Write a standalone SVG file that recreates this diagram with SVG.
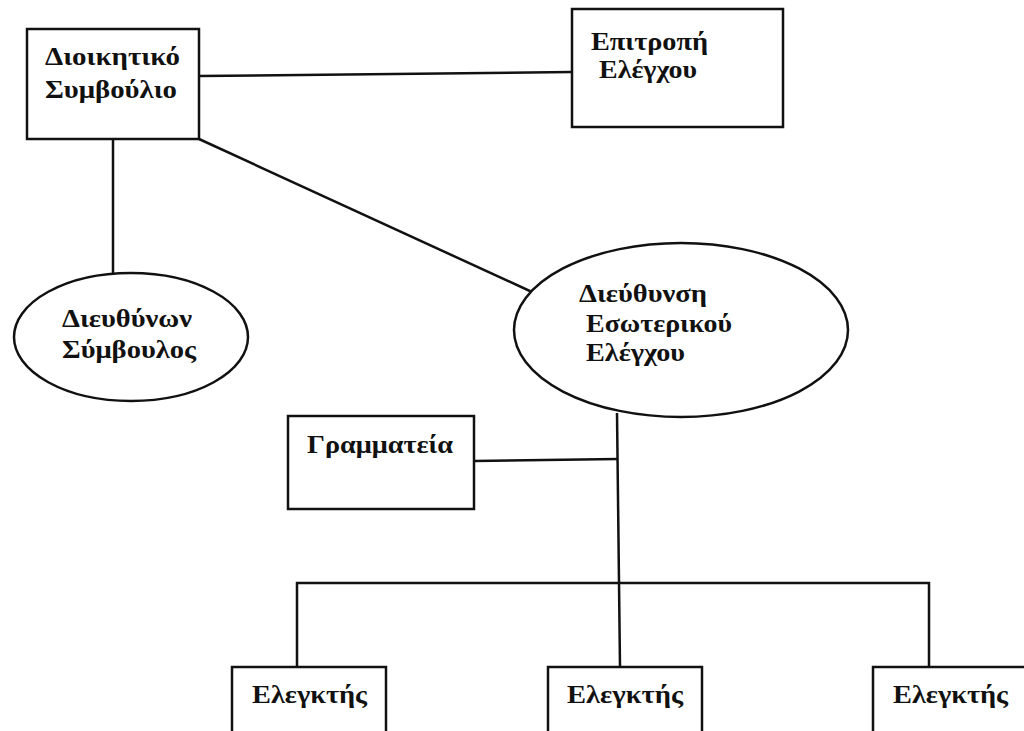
<svg xmlns="http://www.w3.org/2000/svg" width="1024" height="731" viewBox="0 0 1024 731">
<style>
.s{fill:#fff;stroke:#111;stroke-width:2.5}
.c{fill:none;stroke:#111;stroke-width:2.5}
.t{font-family:"Liberation Serif","Times New Roman",serif;font-weight:bold;font-size:25px;fill:#111}
</style>
<rect width="1024" height="731" fill="#fff"/>
<g id="connectors">
<path class="c" d="M199 76 L572 72"/>
<path class="c" d="M113 139 L113 273"/>
<path class="c" d="M199 139 L532 292"/>
<path class="c" d="M617 413 L620 667"/>
<path class="c" d="M474 461 L618 459"/>
<path class="c" d="M297 667 L297 583 L929 583 L929 667"/>
</g>
<g id="n-dioikitiko">
<rect class="s" x="27" y="29" width="172" height="110"/>
<text class="t" x="45" y="65" textLength="135" lengthAdjust="spacingAndGlyphs">Διοικητικό</text>
<text class="t" x="45" y="98" textLength="132" lengthAdjust="spacingAndGlyphs">Συμβούλιο</text>
</g>
<g id="n-epitropi">
<rect class="s" x="572" y="9" width="211" height="118"/>
<text class="t" x="591" y="50" textLength="117" lengthAdjust="spacingAndGlyphs">Επιτροπή</text>
<text class="t" x="599" y="78" textLength="98" lengthAdjust="spacingAndGlyphs">Ελέγχου</text>
</g>
<g id="n-dieuthynon">
<ellipse class="s" cx="131" cy="337" rx="117" ry="64"/>
<text class="t" x="62" y="327" textLength="130" lengthAdjust="spacingAndGlyphs">Διευθύνων</text>
<text class="t" x="62" y="358" textLength="134" lengthAdjust="spacingAndGlyphs">Σύμβουλος</text>
</g>
<g id="n-dieuthynsi">
<ellipse class="s" cx="681" cy="330" rx="167" ry="87"/>
<text class="t" x="579" y="302" textLength="128" lengthAdjust="spacingAndGlyphs">Διεύθυνση</text>
<text class="t" x="586" y="332" textLength="146" lengthAdjust="spacingAndGlyphs">Εσωτερικού</text>
<text class="t" x="586" y="361" textLength="99" lengthAdjust="spacingAndGlyphs">Ελέγχου</text>
</g>
<g id="n-grammateia">
<rect class="s" x="288" y="416" width="186" height="93"/>
<text class="t" x="307" y="453" textLength="146" lengthAdjust="spacingAndGlyphs">Γραμματεία</text>
</g>
<g id="n-elegktis1">
<rect class="s" x="232" y="667" width="154" height="100"/>
<text class="t" x="252" y="703" textLength="115" lengthAdjust="spacingAndGlyphs">Ελεγκτής</text>
</g>
<g id="n-elegktis2">
<rect class="s" x="548" y="667" width="154" height="100"/>
<text class="t" x="567" y="703" textLength="116" lengthAdjust="spacingAndGlyphs">Ελεγκτής</text>
</g>
<g id="n-elegktis3">
<rect class="s" x="873" y="667" width="170" height="100"/>
<text class="t" x="893" y="703" textLength="115" lengthAdjust="spacingAndGlyphs">Ελεγκτής</text>
</g>
</svg>
